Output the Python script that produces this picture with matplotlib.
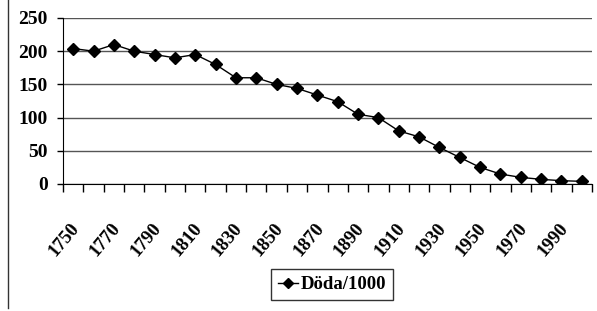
import matplotlib
matplotlib.use("Agg")
import matplotlib.pyplot as plt
from matplotlib.lines import Line2D
import matplotlib.transforms as mtransforms
import numpy as np

years = list(range(1750, 2001, 10))
deaths = [204, 200, 210, 200, 195, 190, 195, 180, 160, 160, 150, 144, 134, 124,
          105, 100, 80, 71, 55, 40, 25, 15, 10, 7, 5, 4]
yticks = [0, 50, 100, 150, 200, 250]
series_name = "Döda/1000"

plt.rcParams['font.family'] = ['Liberation Serif', 'DejaVu Serif']
plt.rcParams['font.weight'] = 'bold'

fig = plt.figure(figsize=(5.97, 3.11), dpi=100)
ax = fig.add_axes([63/597, 1-184/311, (592-63)/597, (184-18)/311])

x = np.arange(len(years))
ax.plot(x, deaths, color='black', lw=1, marker='D', markersize=6,
        markerfacecolor='black', markeredgecolor='black', label=series_name)

ax.set_xlim(-0.5, len(years) - 0.5)
ax.set_ylim(0, 250)
ax.set_yticks(yticks)
ax.set_yticklabels([str(v) for v in yticks], fontsize=14, fontweight='bold')
ax.yaxis.grid(True, color='#555555', lw=1)
ax.set_axisbelow(True)

ax.set_xticks(np.arange(-0.5, len(years)), minor=True)
ax.set_xticks(x[::2])
ax.set_xticklabels([str(y) for y in years[::2]], rotation=50, ha='right',
                   rotation_mode='anchor', fontsize=13.5, fontweight='bold')
ax.tick_params(axis='x', which='major', length=0, pad=26)
ax.tick_params(axis='x', which='minor', length=5.5, width=1, direction='out')
ax.tick_params(axis='y', length=4, width=1, pad=7)
offset = mtransforms.ScaledTranslation(-3/100, 0, fig.dpi_scale_trans)
for lab in ax.get_xticklabels():
    lab.set_transform(lab.get_transform() + offset)

for s in ['top', 'right']:
    ax.spines[s].set_visible(False)
ax.spines['left'].set_color('black')
ax.spines['bottom'].set_color('black')

leg = fig.legend(loc='center', bbox_to_anchor=(332/597, 1-284.5/311),
                 prop={'size': 13.5, 'weight': 'bold'}, frameon=True,
                 fancybox=False, edgecolor='black', handlelength=1.1,
                 handletextpad=0.15, borderpad=0.35, markerscale=0.8)
leg.get_frame().set_linewidth(1)

fig.add_artist(Line2D([7.5/597, 7.5/597], [1-0/311, 1-308/311], transform=fig.transFigure,
                      color='#333333', lw=1))

fig.savefig('out.png', dpi=100)
